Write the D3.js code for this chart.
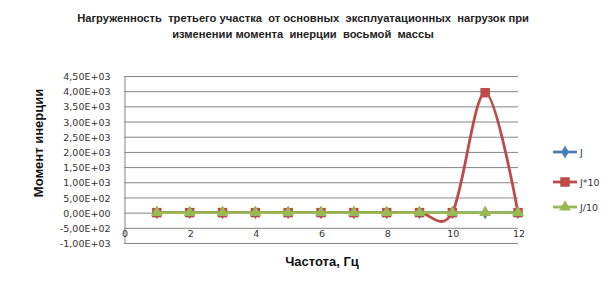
<!DOCTYPE html>
<html><head><meta charset="utf-8">
<script src="https://cdn.jsdelivr.net/npm/d3@7"></script>
<style>body{margin:0;background:#fff}svg{display:block}</style>
</head><body>
<svg id="c" width="614" height="297"></svg>
<script>
const xValues = [1,2,3,4,5,6,7,8,9,10,11,12];
const seriesJ = [0,0,0,0,0,0,0,0,0,0,0,0];
const seriesJx10 = [0,0,0,0,0,0,0,0,0,0,3950,0];
const seriesJd10 = [0,0,0,0,0,0,0,0,0,0,0,0];
const seriesNames = ["J","J*10","J/10"];
const seriesColors = ["#4A7EBB","#BE4B48","#98B954"];
const yTicks = [-1000,-500,0,500,1000,1500,2000,2500,3000,3500,4000,4500];
const xTicks = [0,2,4,6,8,10,12];
const titleLines = ["Нагруженность  третьего участка  от основных  эксплуатационных  нагрузок при","изменении момента  инерции  восьмой  массы"];
const yTitle = "Момент инерции";
const xTitle = "Частота, Гц";

const svg = d3.select("#c");
const x = d3.scaleLinear().domain([0,12]).range([124,518]);
const y = d3.scaleLinear().domain([-1000,4500]).range([243,76]);
const fmt = v => { if (v===0) return "0,00E+00"; const e=Math.floor(Math.log10(Math.abs(v))); const m=v/Math.pow(10,e); return m.toFixed(2).replace(".",",")+"E+"+String(e).padStart(2,"0"); };

// gridlines
svg.append("g").selectAll("line").data(yTicks).join("line")
  .attr("x1",124).attr("x2",518).attr("y1",d=>y(d)+0.5).attr("y2",d=>y(d)+0.5)
  .attr("stroke","#868686").attr("stroke-width",1);
// y axis
const ya = svg.append("g").attr("transform","translate(124.5,0.5)")
  .call(d3.axisLeft(y).tickValues(yTicks).tickFormat(fmt).tickSize(0).tickPadding(14));
ya.select(".domain").attr("stroke","#868686");
ya.selectAll("text").attr("font-family","'DejaVu Sans', sans-serif").attr("font-size","9.5px").attr("fill","#333");
// x axis labels
const xa = svg.append("g").attr("transform","translate(0.5,230)")
  .call(d3.axisBottom(x).tickValues(xTicks).tickFormat(d3.format("d")).tickSize(0).tickPadding(0));
xa.select(".domain").remove();
xa.selectAll("text").attr("font-family","'DejaVu Sans', sans-serif").attr("font-size","9.5px").attr("fill","#333");

const series = [seriesJ, seriesJx10, seriesJd10];
const line = d3.line().x((d,i)=>x(xValues[i])).y(d=>y(d)).curve(d3.curveCardinal.tension(0));
const sym = [d3.symbolDiamond, d3.symbolSquare, d3.symbolTriangle];
const symSize = [50, 90, 60];
series.forEach((s,k)=>{
  svg.append("path").datum(s).attr("d",line).attr("fill","none")
    .attr("stroke",seriesColors[k]).attr("stroke-width",2.8);
  svg.append("g").selectAll("path").data(s).join("path")
    .attr("transform",(d,i)=>`translate(${x(xValues[i])},${y(d)})`)
    .attr("d",d3.symbol().type(sym[k]).size(symSize[k]))
    .attr("fill",seriesColors[k]);
});

// legend
const ly = [152,182,207];
seriesNames.forEach((n,k)=>{
  const g = svg.append("g").attr("transform",`translate(0,${ly[k]})`);
  g.append("line").attr("x1",553).attr("x2",577).attr("stroke",seriesColors[k]).attr("stroke-width",2.8);
  g.append("path").attr("transform","translate(565,0)").attr("d",d3.symbol().type(sym[k]).size(symSize[k])).attr("fill",seriesColors[k]);
  g.append("text").attr("x",580).attr("y",4).text(n)
    .attr("font-family","'DejaVu Sans', sans-serif").attr("font-size","9.5px").attr("fill","#333");
});

// titles
svg.selectAll("text.t").data(titleLines).join("text").attr("class","t")
  .attr("x",303).attr("y",(d,i)=>22+i*16).attr("text-anchor","middle")
  .attr("font-family","'Liberation Sans', Arial, sans-serif").attr("font-weight","bold")
  .attr("font-size","11.2px").attr("fill","#222").attr("xml:space","preserve").style("white-space","pre").text(d=>d);
svg.append("text").attr("transform","translate(43,143) rotate(-90)").attr("text-anchor","middle")
  .attr("font-family","'Liberation Sans', Arial, sans-serif").attr("font-weight","bold").attr("font-size","13px").attr("fill","#111").text(yTitle);
svg.append("text").attr("x",322).attr("y",266).attr("text-anchor","middle")
  .attr("font-family","'Liberation Sans', Arial, sans-serif").attr("font-weight","bold").attr("font-size","13px").attr("fill","#111").text(xTitle);
</script>
</body></html>
